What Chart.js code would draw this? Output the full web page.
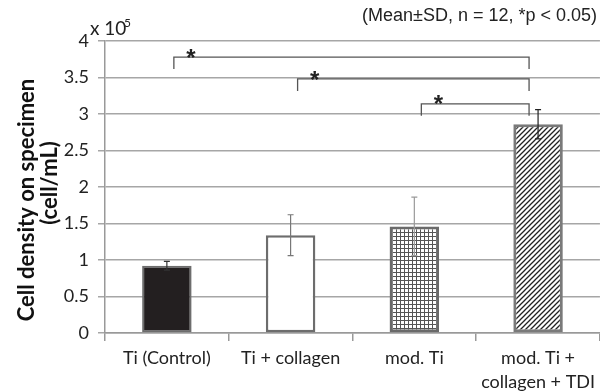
<!DOCTYPE html>
<html lang="en">
<head>
<meta charset="UTF-8">
<title>Cell density on specimen</title>
<script src="https://cdn.jsdelivr.net/npm/chart.js"></script>
<style>
  html, body { margin: 0; padding: 0; background: #fff; }
  #wrap { width: 600px; height: 391px; position: relative; }
</style>
</head>
<body>
<div id="wrap"><canvas id="cellChart"></canvas></div>
<script>
// categories and values (x 10^5 cells/mL)
const groups = ['Ti (Control)', 'Ti + collagen', 'mod. Ti', ['mod. Ti +', 'collagen + TDI']];
const means = [0.92, 1.34, 1.46, 2.86];
const sds = [0.06, 0.28, 0.40, 0.20];
const yTicks = [0, 0.5, 1, 1.5, 2, 2.5, 3, 3.5, 4];
// significance brackets: [from group, to group, bar height]
const brackets = [[0, 3, 3.78], [1, 3, 3.48], [2, 3, 3.14]];

function makePattern(kind) {
  const c = document.createElement('canvas');
  const s = kind === 'grid' ? 4 : 5;
  c.width = s; c.height = s;
  const g = c.getContext('2d');
  g.fillStyle = '#fff';
  g.fillRect(0, 0, s, s);
  if (kind === 'grid') {
    g.fillStyle = '#555';
    g.fillRect(0, 0, s, 1);
    g.fillRect(0, 0, 1, s);
  } else {
    g.strokeStyle = '#222';
    g.lineWidth = 1.3;
    g.beginPath();
    g.moveTo(-1, s + 1); g.lineTo(s + 1, -1);
    g.moveTo(-1, 1); g.lineTo(1, -1);
    g.moveTo(s - 1, s + 1); g.lineTo(s + 1, s - 1);
    g.stroke();
  }
  return g.createPattern(c, 'repeat');
}

const fills = ['#231f20', '#ffffff', makePattern('grid'), makePattern('diag')];
const borders = ['#6d6d6d', '#6d6d6d', '#6a6a6a', '#7a7a7a'];
const errColors = ['#333', '#777', '#9a9a9a', '#222'];
const font = 'Lato, "Open Sans", sans-serif';

const extras = {
  id: 'extras',
  afterDatasetsDraw(chart) {
    const ctx = chart.ctx;
    const x = chart.scales.x, y = chart.scales.y;
    ctx.save();
    // error bars
    means.forEach((m, i) => {
      const cx = x.getPixelForValue(i);
      const top = y.getPixelForValue(m + sds[i]);
      const bot = y.getPixelForValue(m - sds[i]);
      ctx.strokeStyle = errColors[i];
      ctx.lineWidth = 1.2;
      ctx.beginPath();
      ctx.moveTo(cx, top); ctx.lineTo(cx, bot);
      ctx.moveTo(cx - 3, top); ctx.lineTo(cx + 3, top);
      ctx.moveTo(cx - 3, bot); ctx.lineTo(cx + 3, bot);
      ctx.stroke();
    });
    // brackets
    ctx.strokeStyle = '#555';
    ctx.lineWidth = 1.3;
    ctx.fillStyle = '#222';
    ctx.font = 'bold 24px "Liberation Sans", Arial, sans-serif';
    ctx.textAlign = 'center';
    ctx.textBaseline = 'middle';
    brackets.forEach(([a, b, h]) => {
      const x1 = x.getPixelForValue(a) + 7;
      const x2 = x.getPixelForValue(b) - 9;
      const yy = y.getPixelForValue(h);
      ctx.beginPath();
      ctx.moveTo(x1, yy + 12); ctx.lineTo(x1, yy);
      ctx.lineTo(x2, yy); ctx.lineTo(x2, yy + 12);
      ctx.stroke();
      ctx.fillText('*', x1 + 17, yy + 2);
    });
    ctx.restore();
  },
  afterDraw(chart) {
    const ctx = chart.ctx;
    ctx.save();
    // axis title
    ctx.fillStyle = '#111';
    ctx.font = 'bold 22px ' + font;
    ctx.textAlign = 'center';
    ctx.textBaseline = 'middle';
    ctx.save();
    ctx.translate(27, 200);
    ctx.rotate(-Math.PI / 2);
    ctx.fillText('Cell density on specimen', 0, 0);
    ctx.restore();
    ctx.save();
    ctx.translate(50, 183);
    ctx.rotate(-Math.PI / 2);
    ctx.fillText('(cell/mL)', 0, 0);
    ctx.restore();
    // multiplier
    ctx.fillStyle = '#222';
    ctx.font = '19px ' + font;
    ctx.textAlign = 'left';
    ctx.fillText('x 10', 90, 29);
    ctx.font = '12px ' + font;
    ctx.fillText('5', 124, 23);
    // note
    ctx.font = '18px "Liberation Sans", Arial, sans-serif';
    ctx.textAlign = 'right';
    ctx.fillText('(Mean\u00b1SD, n = 12, *p < 0.05)', 597, 16);
    ctx.restore();
  }
};

new Chart(document.getElementById('cellChart'), {
  type: 'bar',
  data: {
    labels: groups,
    datasets: [{
      data: means,
      backgroundColor: fills,
      borderColor: borders,
      borderWidth: [2, 2.5, 3, 3],
      borderSkipped: false,
      barPercentage: 0.4,
      categoryPercentage: 1
    }]
  },
  options: {
    responsive: true,
    maintainAspectRatio: false,
    animation: false,
    layout: { padding: { top: 41, right: 0, left: 0, bottom: 0 } },
    plugins: { legend: { display: false }, tooltip: { enabled: false } },
    scales: {
      x: {
        afterFit: s => { s.height = 58; },
        grid: { offset: true, drawOnChartArea: false, tickLength: 8, color: '#999', lineWidth: 1.5 },
        border: { color: '#999', width: 1.5 },
        ticks: { color: '#222', padding: 5, maxRotation: 0, font: { family: font, size: 18, lineHeight: 1.35 } }
      },
      y: {
        min: 0,
        max: 4,
        afterFit: s => { s.width = 105; },
        afterBuildTicks: s => { s.ticks = yTicks.map(v => ({ value: v })); },
        grid: { color: '#a6a6a6', lineWidth: 1.5, tickLength: 7 },
        border: { color: '#999', width: 1.5 },
        ticks: { color: '#222', padding: 9, callback: v => String(v), font: { family: font, size: 18 } }
      }
    }
  },
  plugins: [extras]
});
</script>
</body>
</html>
